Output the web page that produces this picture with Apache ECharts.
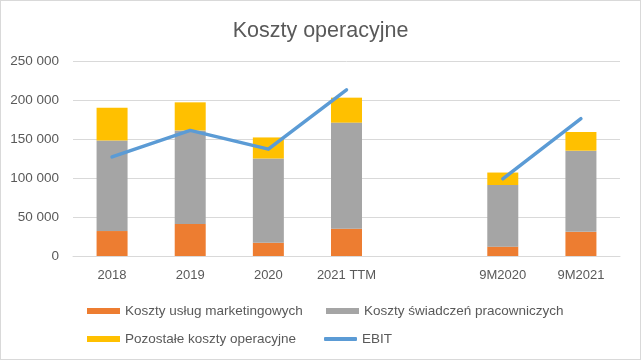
<!DOCTYPE html>
<html><head><meta charset="utf-8">
<script src="https://cdn.jsdelivr.net/npm/echarts@6/dist/echarts.min.js"></script>
<style>html,body{margin:0;padding:0;background:#fff}#c{width:641px;height:360px;box-sizing:border-box;border:1px solid #d9d9d9}</style>
</head><body><div id="c"></div>
<script>
const categories = ['2018','2019','2020','2021 TTM','','9M2020','9M2021'];
const marketing = [32000, 41000, 17000, 35000, null, 12000, 31000];
const pracownicze = [116000, 120000, 108000, 136000, null, 79000, 104000];
const pozostale = [42000, 36000, 27000, 32000, null, 16000, 24000];
const ebit = [127000, 161000, 137000, 213000, null, 99000, 176000];
const seriesNames = ['Koszty usług marketingowych','Koszty świadczeń pracowniczych','Pozostałe koszty operacyjne','EBIT'];
const titleText = 'Koszty operacyjne';

const font = 'Liberation Sans, Arial, sans-serif';
const txt = '#595959';
const chart = echarts.init(document.getElementById('c'));
const fmt = v => String(v).replace(/\B(?=(\d{3})+(?!\d))/g, ' ');
const legendText = {color: txt, fontSize: 13.5, fontFamily: font};
const leg = (name, left, top, h, icon) => ({data: [name], left: left, top: top, padding: 0, itemWidth: 33, itemHeight: h, icon: icon, textStyle: legendText, itemGap: 0});
chart.setOption({
  animation: false,
  title: {text: titleText, left: 'center', top: 14, textStyle: {color: txt, fontSize: 21.5, fontWeight: 'normal', fontFamily: font}},
  grid: {left: 72, right: 20, top: 60, bottom: 103},
  legend: [
    leg(seriesNames[0], 86, 303, 6, 'rect'),
    leg(seriesNames[2], 86, 331, 6, 'rect'),
    leg(seriesNames[1], 325, 303, 6, 'rect'),
    leg(seriesNames[3], 323, 331, 4, 'roundRect')
  ],
  xAxis: {type: 'category', data: categories, axisTick: {show: false},
    axisLine: {lineStyle: {color: '#d9d9d9'}},
    axisLabel: {color: txt, fontSize: 13, fontFamily: font, margin: 13, interval: 0}},
  yAxis: {type: 'value', min: 0, max: 250000, interval: 50000,
    axisLabel: {color: txt, fontSize: 13.5, fontFamily: font, formatter: fmt, margin: 14},
    splitLine: {lineStyle: {color: '#d9d9d9'}}, axisLine: {show: false}},
  series: [
    {name: seriesNames[0], type: 'bar', stack: 'a', data: marketing, barWidth: 31, itemStyle: {color: '#ED7D31'}},
    {name: seriesNames[1], type: 'bar', stack: 'a', data: pracownicze, barWidth: 31, itemStyle: {color: '#A5A5A5'}},
    {name: seriesNames[2], type: 'bar', stack: 'a', data: pozostale, barWidth: 31, itemStyle: {color: '#FFC000'}},
    {name: seriesNames[3], type: 'line', data: ebit, symbol: 'none', connectNulls: false,
      lineStyle: {color: '#5B9BD5', width: 3.5, cap: 'round', join: 'round'}, itemStyle: {color: '#5B9BD5'}}
  ]
});
</script></body></html>
